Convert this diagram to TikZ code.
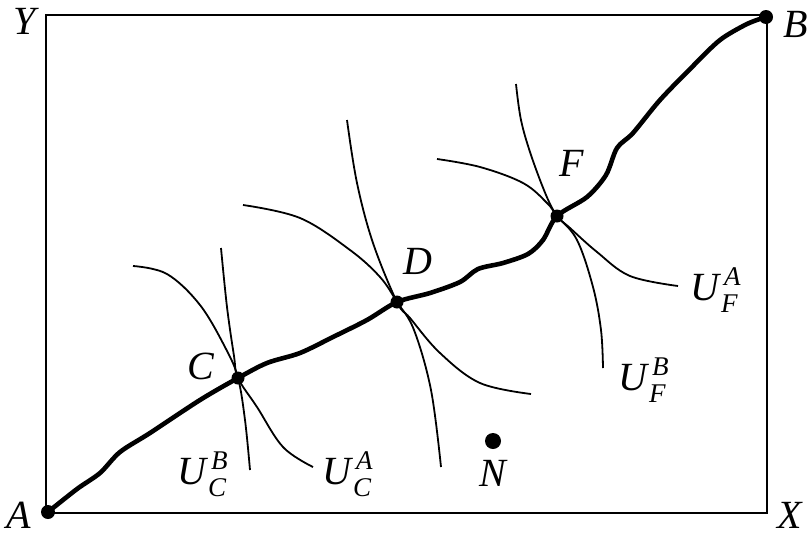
\documentclass[tikz,border=0pt]{standalone}
\usepackage{fontspec}
\setmainfont{Liberation Serif}
\newcommand{\Uss}[2]{\textit{U}\kern5pt\rlap{\raisebox{15pt}{\fontsize{27}{27}\selectfont\textit{#2}}}\kern-3pt\raisebox{-12pt}{\fontsize{27}{27}\selectfont\textit{#1}}}
\begin{document}
\begin{tikzpicture}[x=1pt,y=-1pt,
  lab/.style={font=\fontsize{40}{40}\selectfont\itshape, inner sep=0pt},
  ulab/.style={lab, anchor=base west},
  frame/.style={line width=1.8pt},
  icurve/.style={line width=1.8pt},
  contract/.style={line width=4.6pt, line join=round, line cap=round},
  dot/.style={fill=black}]
\useasboundingbox (0,0) rectangle (809,536);
% key points
\coordinate (A) at (48,512);
\coordinate (B) at (766,17);
\coordinate (C) at (238,378);
\coordinate (D) at (397,302);
\coordinate (F) at (557,216);
\coordinate (N) at (493,441);
% box
\draw[frame] (46,15) rectangle (767,513);
% indifference curves at C
\draw[icurve] plot[smooth, tension=0.6] coordinates {(133,266) (167,274) (200,305) (226,349) (C) (245,420) (250,470)};
\draw[icurve] plot[smooth, tension=0.6] coordinates {(221,248) (227,307) (234,356) (C) (257,407) (283,447) (313,467)};
% indifference curves at D
\draw[icurve] plot[smooth, tension=0.6] coordinates {(243,205) (300,218) (350,250) (380,277) (D) (414,330) (431,390) (441,467)};
\draw[icurve] plot[smooth, tension=0.6] coordinates {(347,120) (357,183) (373,243) (D) (410,318) (440,353) (480,383) (531,394)};
% indifference curves at F
\draw[icurve] plot[smooth, tension=0.6] coordinates {(437,159) (480,167) (523,183) (547,203) (F) (577,240) (593,287) (601,330) (603,368)};
\draw[icurve] plot[smooth, tension=0.6] coordinates {(516,84) (521,120) (531,155) (546,195) (F) (570,228) (597,252) (630,276) (678,286)};
% contract curve
\draw[contract] plot[smooth, tension=0.5] coordinates {(A) (77,489) (100,473) (120,452) (150,433) (200,400) (C) (267,363) (300,353) (333,337) (367,320) (D) (430,293) (460,282) (478,269) (503,263) (528,254) (543,240) (F) (587,197) (606,175) (617,148) (633,133) (660,100) (693,66) (720,40) (747,24) (B)};
% dots
\fill[dot] (A) circle (7);
\fill[dot] (B) circle (7);
\fill[dot] (C) circle (6.5);
\fill[dot] (D) circle (6.5);
\fill[dot] (F) circle (6.5);
\fill[dot] (N) circle (8);
% labels
\node[lab] (lY) at (25,21) {Y};
\node[lab] (lB) at (796,24) {B};
\node[lab] (lA) at (19,515) {A};
\node[lab] (lX) at (790,515) {X};
\node[lab] (lC) at (201,366) {C};
\node[lab] (lD) at (418,261) {D};
\node[lab] (lF) at (572,163) {F};
\node[lab] (lN) at (493,473) {N};
\node[ulab] (lUCB) at (177,484) {\Uss{C}{B}};
\node[ulab] (lUCA) at (322,484) {\Uss{C}{A}};
\node[ulab] (lUFA) at (690,300) {\Uss{F}{A}};
\node[ulab] (lUFB) at (618,390) {\Uss{F}{B}};
\end{tikzpicture}
\end{document}
